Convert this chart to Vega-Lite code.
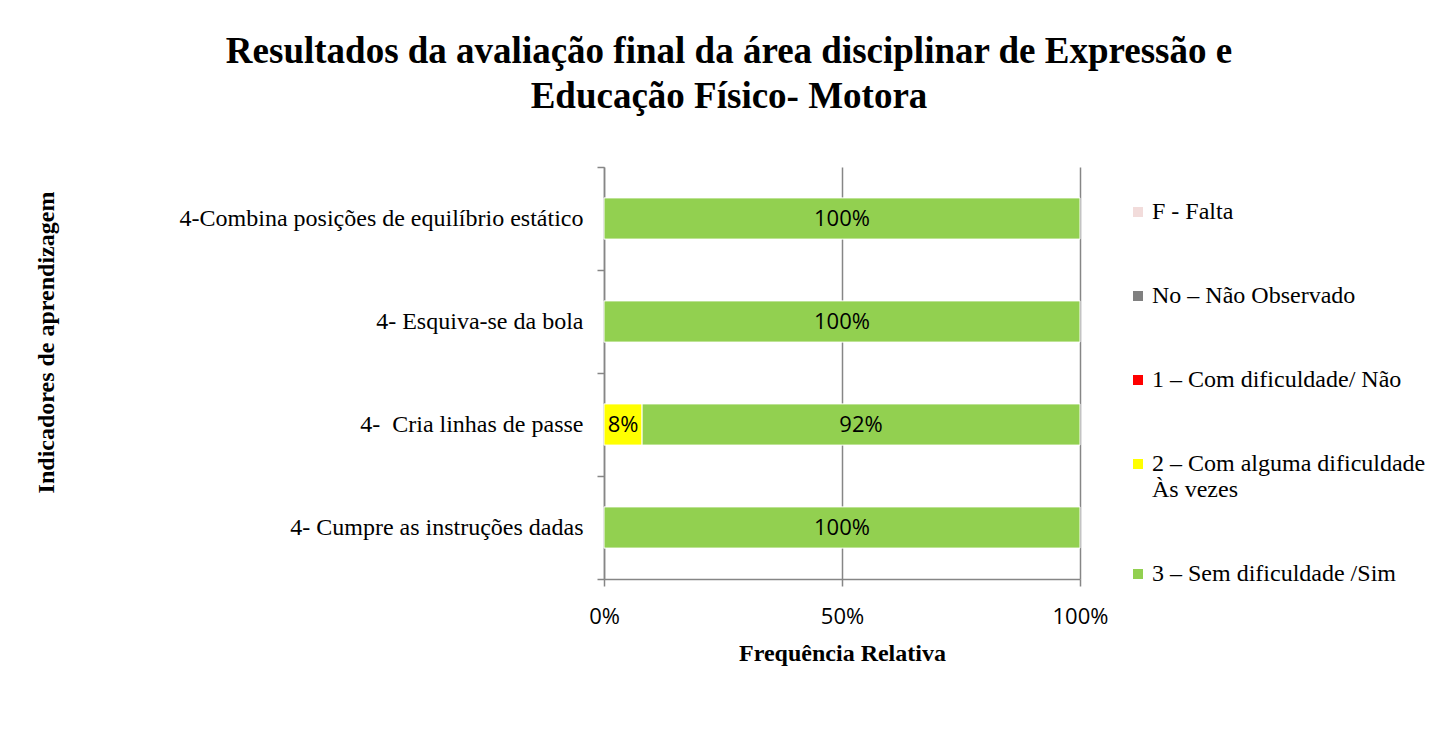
{
  "$schema": "https://vega.github.io/schema/vega-lite/v6.json",
  "width": 476,
  "height": 412,
  "autosize": {"type": "none"},
  "padding": {"left": 604, "top": 167, "right": 350, "bottom": 165},
  "background": "white",
  "title": {
    "text": ["Resultados da avaliação final da área disciplinar de Expressão e", "Educação Físico- Motora"],
    "font": "Liberation Serif",
    "fontSize": 37,
    "fontWeight": "bold",
    "color": "#000000",
    "lineHeight": 45,
    "anchor": "middle",
    "frame": "group",
    "dx": -113,
    "offset": 39
  },
  "data": {
    "values": [
      {"indicador": "4-Combina posições de equilíbrio estático", "categoria": "3 – Sem dificuldade /Sim", "nivel": 3, "valor": 1.0},
      {"indicador": "4- Esquiva-se da bola", "categoria": "3 – Sem dificuldade /Sim", "nivel": 3, "valor": 1.0},
      {"indicador": "4-\u00a0 Cria linhas de passe", "categoria": "2 – Com alguma dificuldade Às vezes", "nivel": 2, "valor": 0.08},
      {"indicador": "4-\u00a0 Cria linhas de passe", "categoria": "3 – Sem dificuldade /Sim", "nivel": 3, "valor": 0.92},
      {"indicador": "4- Cumpre as instruções dadas", "categoria": "3 – Sem dificuldade /Sim", "nivel": 3, "valor": 1.0}
    ]
  },
  "encoding": {
    "y": {
      "field": "indicador",
      "type": "nominal",
      "sort": ["4-Combina posições de equilíbrio estático", "4- Esquiva-se da bola", "4-\u00a0 Cria linhas de passe", "4- Cumpre as instruções dadas"],
      "scale": {"paddingInner": 0, "paddingOuter": 0},
      "axis": {
        "title": "Indicadores de aprendizagem",
        "titleFont": "Liberation Serif",
        "titleFontSize": 24,
        "titleFontWeight": "bold",
        "titleColor": "#000000",
        "titleX": -558,
        "titleY": 175,
        "titleBaseline": "middle",
        "titleAngle": 270,
        "titleAlign": "center",
        "labelFont": "Liberation Serif",
        "labelFontSize": 24,
        "labelColor": "#000000",
        "labelPadding": 14,
        "labelLimit": 600,
        "tickBand": "extent",
        "tickSize": 7,
        "tickColor": "#868686",
        "tickWidth": 1.5,
        "domainColor": "#868686",
        "domainWidth": 1.5,
        "grid": false
      }
    }
  },
  "layer": [
    {
      "mark": {"type": "bar", "height": {"band": 0.4}, "stroke": "white", "strokeWidth": 1},
      "encoding": {
        "x": {
          "field": "valor",
          "type": "quantitative",
          "stack": "normalize",
          "scale": {"domain": [0, 1]},
          "axis": {
            "title": "Frequência Relativa",
            "titleFont": "Liberation Serif",
            "titleFontSize": 24,
            "titleFontWeight": "bold",
            "titleColor": "#000000",
            "titlePadding": 14,
            "format": ".0%",
            "values": [0, 0.5, 1],
            "labelFont": "Open Sans",
            "labelFontSize": 22,
            "labelColor": "#000000",
            "labelPadding": 20,
            "labelFlush": false,
            "tickSize": 7,
            "tickColor": "#868686",
            "tickWidth": 1.5,
            "domainColor": "#868686",
            "domainWidth": 1.5,
            "grid": true,
            "gridColor": "#868686",
            "gridWidth": 1.5
          }
        },
        "order": {"field": "nivel", "type": "quantitative"},
        "color": {
          "field": "categoria",
          "type": "nominal",
          "scale": {
            "domain": ["F - Falta", "No – Não Observado", "1 – Com dificuldade/ Não", "2 – Com alguma dificuldade Às vezes", "3 – Sem dificuldade /Sim"],
            "range": ["#F2DCDB", "#808080", "#FF0000", "#FFFF00", "#92D050"]
          },
          "legend": {
            "title": null,
            "orient": "none",
            "legendX": 522,
            "legendY": 33,
            "padding": 0,
            "symbolType": "square",
            "symbolSize": 100,
            "symbolStrokeWidth": 0,
            "labelFont": "Liberation Serif",
            "labelFontSize": 24,
            "labelColor": "#000000",
            "labelLimit": 400,
            "labelOffset": 2,
            "rowPadding": 60,
            "labelExpr": "datum.label == '2 – Com alguma dificuldade Às vezes' ? ['2 – Com alguma dificuldade', 'Às vezes'] : datum.label"
          }
        }
      }
    },
    {
      "transform": [
        {"stack": "valor", "groupby": ["indicador"], "sort": [{"field": "nivel"}], "offset": "normalize", "as": ["v0", "v1"]},
        {"calculate": "(datum.v0 + datum.v1) / 2", "as": "meio"}
      ],
      "mark": {"type": "text", "font": "Open Sans", "fontSize": 22, "color": "#000000", "align": "center", "baseline": "middle"},
      "encoding": {
        "x": {"field": "meio", "type": "quantitative"},
        "text": {"field": "valor", "type": "quantitative", "format": ".0%"}
      }
    }
  ],
  "config": {
    "view": {"stroke": null}
  }
}
